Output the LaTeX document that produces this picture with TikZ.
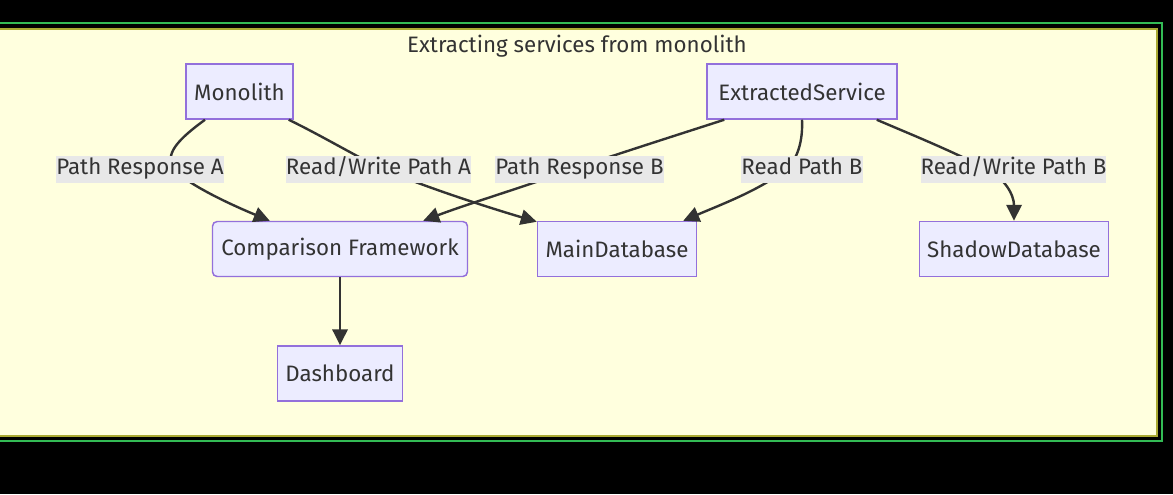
\documentclass[tikz,border=0pt]{standalone}
\usepackage{fontspec}
\setmainfont{Fira Sans}
\usetikzlibrary{arrows.meta,calc}
\definecolor{nodefill}{HTML}{ECECFF}
\definecolor{nodedraw}{HTML}{9370DB}
\definecolor{textc}{HTML}{333333}
\definecolor{clusterfill}{HTML}{FFFFDE}
\definecolor{clusterdraw}{HTML}{AAAA33}
\definecolor{outergreen}{HTML}{33BB55}
\definecolor{lblfill}{HTML}{E8E8E8}
\definecolor{edgec}{HTML}{333333}
\tikzset{
  txt/.style={font=\fontsize{16.75}{20}\selectfont},
  box/.style={draw=nodedraw, fill=nodefill, line width=1.1pt, text=textc,
    minimum height=55*0.75pt, inner sep=0pt, txt},
  rbox/.style={box, rounded corners=3.5pt},
  lbl/.style={fill=lblfill, text=textc, inner xsep=0pt, inner ysep=0pt,
    text height=12.5pt, text depth=4.5pt, minimum height=27*0.75pt, txt},
  edge/.style={draw=edgec, line width=1.8pt, -{Triangle[length=12pt,width=11.5pt]}}
}
\begin{document}
\begin{tikzpicture}[x=0.75pt,y=-0.75pt]
\useasboundingbox (0,0) rectangle (1173,494);
\fill[black] (0,0) rectangle (1173,494);
\begin{scope}
\clip (0,0) rectangle (1173,494);
\draw[outergreen, line width=1.1pt] (-10,23) rectangle (1162,441);
\draw[clusterdraw, fill=clusterfill, line width=1.5pt] (-10,29) rectangle (1156.5,436);
\end{scope}
\node[text=textc, txt] (title) at (577,46) {Extracting services from monolith};

\node[box, minimum width=107*0.75pt] (mono) at (239.5,91.5) {Monolith};
\node[box, minimum width=190*0.75pt] (es) at (802,91.5) {ExtractedService};
\node[rbox, minimum width=255*0.75pt] (cf) at (340,249) {Comparison Framework};
\node[box, minimum width=159*0.75pt] (mdb) at (617,249) {MainDatabase};
\node[box, minimum width=189*0.75pt] (sdb) at (1014,249) {ShadowDatabase};
\node[box, minimum width=125*0.75pt] (dash) at (340,373.5) {Dashboard};

% edges
\draw[edge] ($(mono.south)+(-34.5,0)$) .. controls (180,138) and (166,152) .. (172,166)
   .. controls (178,178) and (215,198) .. ($(cf.north west)+(58,0)$);
\draw[edge] ($(mono.south east)+(-5,0)$) .. controls (320,135) and (345,150) .. (380,168)
   .. controls (420,185) and (480,205) .. ($(mdb.north west)+(0,1)$);
\draw[edge] ($(es.south west)+(18,0)$) .. controls (680,134) and (630,150) .. (582,166)
   .. controls (530,185) and (470,203) .. ($(cf.north east)+(-45,0)$);
\draw[edge] (es.south) .. controls (803,140) and (798,160) .. (785,170)
   .. controls (760,190) and (720,205) .. ($(mdb.north east)+(-14,0)$);
\draw[edge] ($(es.south east)+(-21,0)$) .. controls (910,134) and (945,148) .. (985,168)
   .. controls (1005,178) and (1014,195) .. (sdb.north);
\draw[edge] (cf.south) -- (dash.north);

% labels
\node[lbl] (lPRA) at (140,169.5) {Path Response A};
\node[lbl] (lRWA) at (378.5,169.5) {Read/Write Path A};
\node[lbl] (lPRB) at (579.5,169.5) {Path Response B};
\node[lbl] (lRPB) at (802,169.5) {Read Path B};
\node[lbl] (lRWB) at (1013.5,169.5) {Read/Write Path B};
\end{tikzpicture}
\end{document}
